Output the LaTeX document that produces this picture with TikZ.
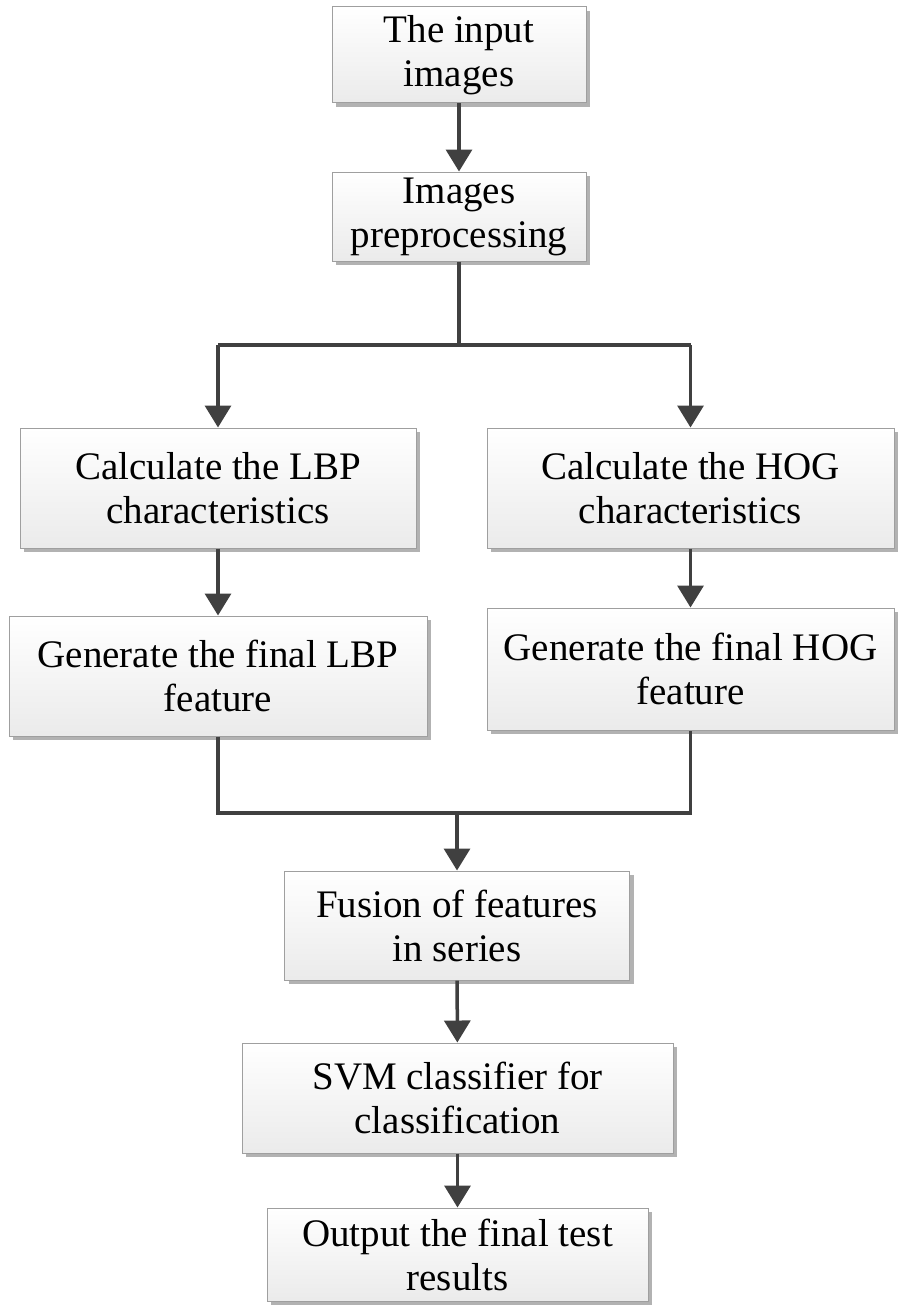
\documentclass[tikz,border=0pt]{standalone}
\usepackage{fontspec}
\setmainfont{Liberation Serif}
\usetikzlibrary{arrows.meta,shadows}

\begin{document}
\begin{tikzpicture}[x=1pt, y=-1pt]
    \colorlet{boxline}{gray!75}
    \colorlet{boxshade}{gray!16}
    \colorlet{flowline}{black!75}
    \tikzset{
        procbox/.style={draw=boxline, line width=1pt, top color=white, bottom color=boxshade,
            drop shadow={shadow xshift=4pt, shadow yshift=-4pt, fill=gray!60, opacity=1},
            inner sep=0pt, align=center, font=\fontsize{39}{44}\selectfont},
        flow/.style={draw=flowline, line width=3.5pt},
        flowarr/.style={flow, -{Triangle[width=26pt,length=22pt]}}
    }
    \useasboundingbox (0,0) rectangle (909,1311);

    % boxes
    \node[procbox, minimum width=254pt, minimum height=96pt] (inp) at (459,55) {The input\\images};
    \node[procbox, minimum width=254pt, minimum height=89pt] (pre) at (459,216.5) {Images\\preprocessing};
    \node[procbox, minimum width=396pt, minimum height=120pt] (lbpc) at (218,488) {Calculate the LBP\\characteristics};
    \node[procbox, minimum width=418pt, minimum height=120pt] (lbpg) at (218,676) {Generate the final LBP\\feature};
    \node[procbox, minimum width=407pt, minimum height=120pt] (hogc) at (690.5,488) {Calculate the HOG\\characteristics};
    \node[procbox, minimum width=407pt, minimum height=122pt] (hogg) at (690.5,669) {Generate the final HOG\\feature};
    \node[procbox, minimum width=345pt, minimum height=109pt] (fus) at (457,925.5) {Fusion of features\\in series};
    \node[procbox, minimum width=431pt, minimum height=110pt] (svm) at (457.5,1098) {SVM classifier for\\classification};
    \node[procbox, minimum width=381pt, minimum height=93pt] (out) at (457.5,1254.5) {Output the final test\\results};

    % junctions
    \coordinate (split) at (459,345);
    \coordinate (merge) at (457,813);

    % connectors
    \draw[flowarr] (inp) -- (pre);
    \draw[flow] (pre.south) -- (split);
    \draw[flow] (lbpc.north |- split) -- (hogc.north |- split);
    \draw[flowarr] (lbpc.north |- split) -- (lbpc.north);
    \draw[flowarr] (hogc.north |- split) -- (hogc.north);
    \draw[flowarr] (lbpc) -- (lbpg);
    \draw[flowarr] (hogc) -- (hogg);
    \draw[flow] (lbpg.south) -- (lbpg.south |- merge) -- (hogg.south |- merge) -- (hogg.south);
    \draw[flowarr] (merge) -- (fus.north);
    \draw[flowarr] (fus) -- (svm);
    \draw[flowarr] (svm) -- (out);
\end{tikzpicture}
\end{document}
